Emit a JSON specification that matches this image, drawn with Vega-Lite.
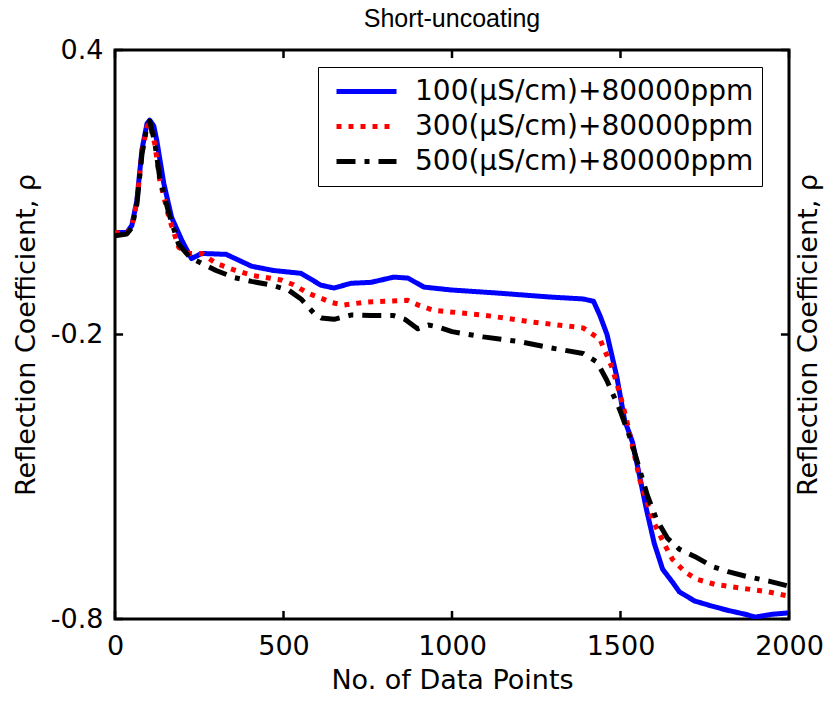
{
  "$schema": "https://vega.github.io/schema/vega-lite/v6.json",
  "width": 674,
  "height": 569,
  "autosize": {"type": "none"},
  "padding": {"left": 115, "top": 50, "right": 39, "bottom": 83},
  "background": "white",
  "title": {"text": "Short-uncoating", "fontSize": 25, "font": "Liberation Sans", "fontWeight": "normal", "color": "black", "offset": 4, "anchor": "middle"},
  "config": {
    "view": {"stroke": "black", "strokeWidth": 3},
    "axis": {"grid": false, "domain": false, "labelFont": "DejaVu Sans", "titleFont": "DejaVu Sans", "labelFontSize": 27, "titleFontSize": 27, "titleFontWeight": "normal", "labelColor": "black", "titleColor": "black"},
    "legend": {"orient": "none", "legendX": 203, "legendY": 17, "title": null, "strokeColor": "black", "strokeWidth": 1, "fillColor": "white", "padding": 8, "symbolType": "stroke", "symbolSize": 3600, "symbolStrokeWidth": 5, "labelFont": "DejaVu Sans", "labelFontSize": 28, "labelColor": "black", "labelOffset": 16, "clipHeight": 33, "rowPadding": 2, "symbolOffset": 8, "labelLimit": 500}
  },
  "datasets": {
    "xticks": [{"tx": 0}, {"tx": 500}, {"tx": 1000}, {"tx": 1500}, {"tx": 2000}],
    "yticks": [{"ty": 0.4}, {"ty": -0.2}, {"ty": -0.8}],
    "curves": [
      {"n":0,"rho":0.015,"s":"100(µS/cm)+80000ppm"},{"n":35,"rho":0.015,"s":"100(µS/cm)+80000ppm"},{"n":50,"rho":0.03,"s":"100(µS/cm)+80000ppm"},{"n":65,"rho":0.083,"s":"100(µS/cm)+80000ppm"},{"n":80,"rho":0.19,"s":"100(µS/cm)+80000ppm"},{"n":95,"rho":0.245,"s":"100(µS/cm)+80000ppm"},{"n":103,"rho":0.252,"s":"100(µS/cm)+80000ppm"},{"n":115,"rho":0.24,"s":"100(µS/cm)+80000ppm"},{"n":124,"rho":0.209,"s":"100(µS/cm)+80000ppm"},{"n":145,"rho":0.118,"s":"100(µS/cm)+80000ppm"},{"n":168,"rho":0.047,"s":"100(µS/cm)+80000ppm"},{"n":198,"rho":-0.001,"s":"100(µS/cm)+80000ppm"},{"n":227,"rho":-0.04,"s":"100(µS/cm)+80000ppm"},{"n":257,"rho":-0.029,"s":"100(µS/cm)+80000ppm"},{"n":330,"rho":-0.031,"s":"100(µS/cm)+80000ppm"},{"n":405,"rho":-0.056,"s":"100(µS/cm)+80000ppm"},{"n":470,"rho":-0.065,"s":"100(µS/cm)+80000ppm"},{"n":552,"rho":-0.071,"s":"100(µS/cm)+80000ppm"},{"n":611,"rho":-0.096,"s":"100(µS/cm)+80000ppm"},{"n":650,"rho":-0.102,"s":"100(µS/cm)+80000ppm"},{"n":700,"rho":-0.092,"s":"100(µS/cm)+80000ppm"},{"n":760,"rho":-0.09,"s":"100(µS/cm)+80000ppm"},{"n":827,"rho":-0.079,"s":"100(µS/cm)+80000ppm"},{"n":869,"rho":-0.081,"s":"100(µS/cm)+80000ppm"},{"n":917,"rho":-0.1,"s":"100(µS/cm)+80000ppm"},{"n":996,"rho":-0.106,"s":"100(µS/cm)+80000ppm"},{"n":1143,"rho":-0.113,"s":"100(µS/cm)+80000ppm"},{"n":1291,"rho":-0.121,"s":"100(µS/cm)+80000ppm"},{"n":1389,"rho":-0.125,"s":"100(µS/cm)+80000ppm"},{"n":1420,"rho":-0.13,"s":"100(µS/cm)+80000ppm"},{"n":1439,"rho":-0.16,"s":"100(µS/cm)+80000ppm"},{"n":1460,"rho":-0.2,"s":"100(µS/cm)+80000ppm"},{"n":1489,"rho":-0.289,"s":"100(µS/cm)+80000ppm"},{"n":1512,"rho":-0.38,"s":"100(µS/cm)+80000ppm"},{"n":1536,"rho":-0.428,"s":"100(µS/cm)+80000ppm"},{"n":1557,"rho":-0.5,"s":"100(µS/cm)+80000ppm"},{"n":1577,"rho":-0.569,"s":"100(µS/cm)+80000ppm"},{"n":1600,"rho":-0.64,"s":"100(µS/cm)+80000ppm"},{"n":1625,"rho":-0.695,"s":"100(µS/cm)+80000ppm"},{"n":1654,"rho":-0.722,"s":"100(µS/cm)+80000ppm"},{"n":1675,"rho":-0.743,"s":"100(µS/cm)+80000ppm"},{"n":1720,"rho":-0.762,"s":"100(µS/cm)+80000ppm"},{"n":1772,"rho":-0.773,"s":"100(µS/cm)+80000ppm"},{"n":1820,"rho":-0.782,"s":"100(µS/cm)+80000ppm"},{"n":1870,"rho":-0.79,"s":"100(µS/cm)+80000ppm"},{"n":1900,"rho":-0.796,"s":"100(µS/cm)+80000ppm"},{"n":1950,"rho":-0.79,"s":"100(µS/cm)+80000ppm"},{"n":2000,"rho":-0.787,"s":"100(µS/cm)+80000ppm"},
      {"n":0,"rho":0.015,"s":"300(µS/cm)+80000ppm"},{"n":35,"rho":0.013,"s":"300(µS/cm)+80000ppm"},{"n":50,"rho":0.028,"s":"300(µS/cm)+80000ppm"},{"n":65,"rho":0.08,"s":"300(µS/cm)+80000ppm"},{"n":80,"rho":0.185,"s":"300(µS/cm)+80000ppm"},{"n":95,"rho":0.238,"s":"300(µS/cm)+80000ppm"},{"n":103,"rho":0.246,"s":"300(µS/cm)+80000ppm"},{"n":118,"rho":0.202,"s":"300(µS/cm)+80000ppm"},{"n":133,"rho":0.125,"s":"300(µS/cm)+80000ppm"},{"n":160,"rho":0.047,"s":"300(µS/cm)+80000ppm"},{"n":189,"rho":-0.016,"s":"300(µS/cm)+80000ppm"},{"n":219,"rho":-0.029,"s":"300(µS/cm)+80000ppm"},{"n":257,"rho":-0.029,"s":"300(µS/cm)+80000ppm"},{"n":300,"rho":-0.05,"s":"300(µS/cm)+80000ppm"},{"n":354,"rho":-0.064,"s":"300(µS/cm)+80000ppm"},{"n":405,"rho":-0.075,"s":"300(µS/cm)+80000ppm"},{"n":493,"rho":-0.085,"s":"300(µS/cm)+80000ppm"},{"n":530,"rho":-0.095,"s":"300(µS/cm)+80000ppm"},{"n":573,"rho":-0.113,"s":"300(µS/cm)+80000ppm"},{"n":603,"rho":-0.121,"s":"300(µS/cm)+80000ppm"},{"n":640,"rho":-0.132,"s":"300(µS/cm)+80000ppm"},{"n":679,"rho":-0.138,"s":"300(µS/cm)+80000ppm"},{"n":740,"rho":-0.132,"s":"300(µS/cm)+80000ppm"},{"n":800,"rho":-0.13,"s":"300(µS/cm)+80000ppm"},{"n":869,"rho":-0.128,"s":"300(µS/cm)+80000ppm"},{"n":900,"rho":-0.138,"s":"300(µS/cm)+80000ppm"},{"n":945,"rho":-0.149,"s":"300(µS/cm)+80000ppm"},{"n":1093,"rho":-0.159,"s":"300(µS/cm)+80000ppm"},{"n":1241,"rho":-0.174,"s":"300(µS/cm)+80000ppm"},{"n":1389,"rho":-0.186,"s":"300(µS/cm)+80000ppm"},{"n":1439,"rho":-0.21,"s":"300(µS/cm)+80000ppm"},{"n":1474,"rho":-0.268,"s":"300(µS/cm)+80000ppm"},{"n":1500,"rho":-0.33,"s":"300(µS/cm)+80000ppm"},{"n":1518,"rho":-0.38,"s":"300(µS/cm)+80000ppm"},{"n":1540,"rho":-0.45,"s":"300(µS/cm)+80000ppm"},{"n":1557,"rho":-0.506,"s":"300(µS/cm)+80000ppm"},{"n":1595,"rho":-0.59,"s":"300(µS/cm)+80000ppm"},{"n":1625,"rho":-0.635,"s":"300(µS/cm)+80000ppm"},{"n":1654,"rho":-0.674,"s":"300(µS/cm)+80000ppm"},{"n":1690,"rho":-0.7,"s":"300(µS/cm)+80000ppm"},{"n":1725,"rho":-0.716,"s":"300(µS/cm)+80000ppm"},{"n":1780,"rho":-0.727,"s":"300(µS/cm)+80000ppm"},{"n":1819,"rho":-0.731,"s":"300(µS/cm)+80000ppm"},{"n":1880,"rho":-0.737,"s":"300(µS/cm)+80000ppm"},{"n":1940,"rho":-0.743,"s":"300(µS/cm)+80000ppm"},{"n":2000,"rho":-0.752,"s":"300(µS/cm)+80000ppm"},
      {"n":0,"rho":0.008,"s":"500(µS/cm)+80000ppm"},{"n":35,"rho":0.012,"s":"500(µS/cm)+80000ppm"},{"n":50,"rho":0.025,"s":"500(µS/cm)+80000ppm"},{"n":65,"rho":0.075,"s":"500(µS/cm)+80000ppm"},{"n":80,"rho":0.18,"s":"500(µS/cm)+80000ppm"},{"n":95,"rho":0.24,"s":"500(µS/cm)+80000ppm"},{"n":103,"rho":0.25,"s":"500(µS/cm)+80000ppm"},{"n":118,"rho":0.205,"s":"500(µS/cm)+80000ppm"},{"n":133,"rho":0.13,"s":"500(µS/cm)+80000ppm"},{"n":160,"rho":0.055,"s":"500(µS/cm)+80000ppm"},{"n":189,"rho":-0.01,"s":"500(µS/cm)+80000ppm"},{"n":222,"rho":-0.037,"s":"500(µS/cm)+80000ppm"},{"n":257,"rho":-0.05,"s":"500(µS/cm)+80000ppm"},{"n":300,"rho":-0.065,"s":"500(µS/cm)+80000ppm"},{"n":354,"rho":-0.08,"s":"500(µS/cm)+80000ppm"},{"n":405,"rho":-0.088,"s":"500(µS/cm)+80000ppm"},{"n":460,"rho":-0.095,"s":"500(µS/cm)+80000ppm"},{"n":514,"rho":-0.106,"s":"500(µS/cm)+80000ppm"},{"n":552,"rho":-0.125,"s":"500(µS/cm)+80000ppm"},{"n":590,"rho":-0.155,"s":"500(µS/cm)+80000ppm"},{"n":612,"rho":-0.165,"s":"500(µS/cm)+80000ppm"},{"n":650,"rho":-0.168,"s":"500(µS/cm)+80000ppm"},{"n":700,"rho":-0.159,"s":"500(µS/cm)+80000ppm"},{"n":760,"rho":-0.16,"s":"500(µS/cm)+80000ppm"},{"n":827,"rho":-0.16,"s":"500(µS/cm)+80000ppm"},{"n":860,"rho":-0.168,"s":"500(µS/cm)+80000ppm"},{"n":898,"rho":-0.188,"s":"500(µS/cm)+80000ppm"},{"n":930,"rho":-0.18,"s":"500(µS/cm)+80000ppm"},{"n":957,"rho":-0.184,"s":"500(µS/cm)+80000ppm"},{"n":1000,"rho":-0.194,"s":"500(µS/cm)+80000ppm"},{"n":1093,"rho":-0.205,"s":"500(µS/cm)+80000ppm"},{"n":1200,"rho":-0.215,"s":"500(µS/cm)+80000ppm"},{"n":1291,"rho":-0.228,"s":"500(µS/cm)+80000ppm"},{"n":1389,"rho":-0.24,"s":"500(µS/cm)+80000ppm"},{"n":1430,"rho":-0.258,"s":"500(µS/cm)+80000ppm"},{"n":1459,"rho":-0.296,"s":"500(µS/cm)+80000ppm"},{"n":1498,"rho":-0.359,"s":"500(µS/cm)+80000ppm"},{"n":1527,"rho":-0.415,"s":"500(µS/cm)+80000ppm"},{"n":1557,"rho":-0.485,"s":"500(µS/cm)+80000ppm"},{"n":1580,"rho":-0.54,"s":"500(µS/cm)+80000ppm"},{"n":1607,"rho":-0.59,"s":"500(µS/cm)+80000ppm"},{"n":1640,"rho":-0.63,"s":"500(µS/cm)+80000ppm"},{"n":1675,"rho":-0.653,"s":"500(µS/cm)+80000ppm"},{"n":1720,"rho":-0.668,"s":"500(µS/cm)+80000ppm"},{"n":1772,"rho":-0.689,"s":"500(µS/cm)+80000ppm"},{"n":1819,"rho":-0.7,"s":"500(µS/cm)+80000ppm"},{"n":1873,"rho":-0.71,"s":"500(µS/cm)+80000ppm"},{"n":1940,"rho":-0.72,"s":"500(µS/cm)+80000ppm"},{"n":2000,"rho":-0.731,"s":"500(µS/cm)+80000ppm"}
    ]
  },
  "layer": [
    {
      "data": {"name": "curves"},
      "mark": {"type": "line", "strokeWidth": 5, "strokeCap": "butt", "strokeJoin": "round", "clip": true},
      "encoding": {
        "x": {"field": "n", "type": "quantitative", "scale": {"domain": [0, 2000], "nice": false, "zero": false},
              "axis": {"orient": "bottom", "values": [0, 500, 1000, 1500, 2000], "format": "d", "ticks": false, "labelPadding": 14, "title": "No. of Data Points", "titlePadding": 8, "labelFlush": false}},
        "y": {"field": "rho", "type": "quantitative", "scale": {"domain": [-0.8, 0.4], "nice": false, "zero": false},
              "axis": {"orient": "left", "values": [0.4, -0.2, -0.8], "labelExpr": "datum.value > 0 ? '0.4' : (datum.value > -0.5 ? '-0.2' : '-0.8')", "ticks": false, "labelPadding": 12, "title": "Reflection Coefficient, ρ", "titlePadding": 10, "labelFlush": false}},
        "color": {"field": "s", "type": "nominal", "scale": {"domain": ["100(µS/cm)+80000ppm", "300(µS/cm)+80000ppm", "500(µS/cm)+80000ppm"], "range": ["#0000FF", "#FF0000", "#000000"]}},
        "strokeDash": {"field": "s", "type": "nominal", "scale": {"domain": ["100(µS/cm)+80000ppm", "300(µS/cm)+80000ppm", "500(µS/cm)+80000ppm"], "range": [[1, 0], [5, 7], [19, 9, 5, 9]]}}
      }
    },
    {
      "data": {"name": "xticks"},
      "mark": {"type": "rule", "color": "black", "strokeWidth": 2.5},
      "encoding": {
        "x": {"field": "tx", "type": "quantitative", "axis": null},
        "y": {"datum": -0.8, "type": "quantitative", "axis": null},
        "y2": {"datum": -0.783}
      }
    },
    {
      "data": {"name": "xticks"},
      "mark": {"type": "rule", "color": "black", "strokeWidth": 2.5},
      "encoding": {
        "x": {"field": "tx", "type": "quantitative", "axis": null},
        "y": {"datum": 0.4, "type": "quantitative", "axis": null},
        "y2": {"datum": 0.383}
      }
    },
    {
      "data": {"name": "yticks"},
      "mark": {"type": "rule", "color": "black", "strokeWidth": 2.5},
      "encoding": {
        "y": {"field": "ty", "type": "quantitative", "axis": null},
        "x": {"datum": 0, "type": "quantitative", "axis": null},
        "x2": {"datum": 24}
      }
    },
    {
      "data": {"name": "yticks"},
      "mark": {"type": "rule", "color": "black", "strokeWidth": 2.5},
      "encoding": {
        "y": {"field": "ty", "type": "quantitative", "axis": {"orient": "right", "values": [0.4, -0.2, -0.8], "labels": false, "ticks": false, "title": "Reflection Coefficient, ρ", "titleAngle": 270, "titleBaseline": "top", "titlePadding": 6}},
        "x": {"datum": 2000, "type": "quantitative", "axis": null},
        "x2": {"datum": 1976}
      }
    }
  ],
  "resolve": {"axis": {"x": "independent", "y": "independent"}}
}
